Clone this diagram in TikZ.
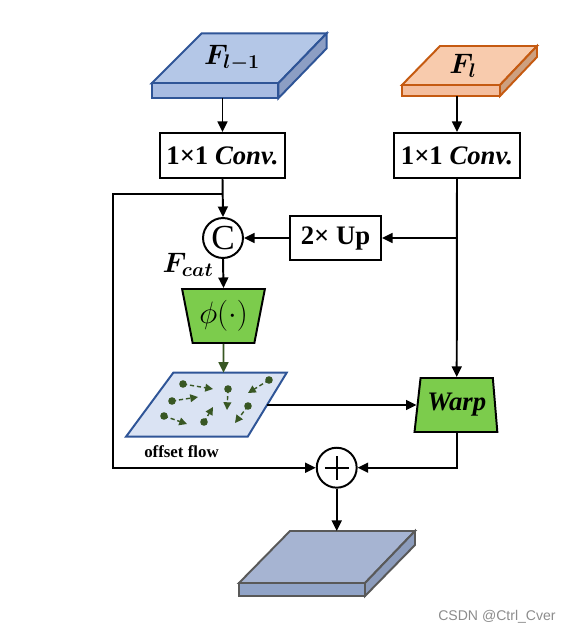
\RequirePackage{fix-cm}
\documentclass[tikz,border=0pt]{standalone}
\usepackage{amsmath,bm}
\usepackage{fontspec}
\setmainfont{Liberation Serif}
\newfontfamily\marksans{Liberation Sans}
\usetikzlibrary{shapes.geometric,arrows.meta}

\definecolor{prevtop}{RGB}{180,199,231}
\definecolor{prevfront}{RGB}{168,188,226}
\definecolor{prevside}{RGB}{140,158,196}
\definecolor{prevline}{RGB}{47,85,151}
\definecolor{currtop}{RGB}{248,203,173}
\definecolor{currfront}{RGB}{244,190,158}
\definecolor{currside}{RGB}{205,160,128}
\definecolor{currline}{RGB}{197,90,17}
\definecolor{opgreen}{RGB}{124,204,76}
\definecolor{flowgreen}{RGB}{56,87,35}
\definecolor{flowfill}{RGB}{218,227,243}
\definecolor{outtop}{RGB}{166,180,210}
\definecolor{outfront}{RGB}{145,164,200}
\definecolor{outside}{RGB}{140,156,188}
\definecolor{outline}{RGB}{89,89,89}

\begin{document}
\begin{tikzpicture}[x=0.025cm,y=-0.025cm,line width=1.4pt,
  >={Triangle[length=7.5pt,width=7pt]},
  box/.style={draw,rectangle,inner sep=0pt,font=\fontsize{19}{22}\selectfont\bfseries},
  opnode/.style={draw,circle,inner sep=0pt,minimum size=28.4pt},
  trap/.style={draw,fill=opgreen,trapezium,trapezium stretches=true,inner sep=0pt},
  flowarrow/.style={->,densely dashed,flowgreen,line width=1pt,>={Triangle[length=5.5pt,width=5.5pt]}}]
  \useasboundingbox (0,0) rectangle (570,632);

  % input feature F_{l-1}
  \filldraw[fill=prevtop,draw=prevline] (201.7,33.3) -- (326.7,33.3) -- (278.3,83.3) -- (151.7,83.3) -- cycle;
  \filldraw[fill=prevfront,draw=prevline] (151.7,83.3) rectangle (278.3,98.3);
  \filldraw[fill=prevside,draw=prevline] (278.3,83.3) -- (326.7,33.3) -- (326.7,48.3) -- (278.3,98.3) -- cycle;
  \node[font=\fontsize{20}{24}\selectfont] (fprev) at (232,58) {$\bm{F}_{\bm{l-1}}$};
  \coordinate (fprevout) at (222.5,98.3);

  % input feature F_l
  \filldraw[fill=currtop,draw=currline] (440,46) -- (537,46) -- (500,85) -- (402,85) -- cycle;
  \filldraw[fill=currfront,draw=currline] (402,85) rectangle (500,96);
  \filldraw[fill=currside,draw=currline] (500,85) -- (537,46) -- (537,57) -- (500,96) -- cycle;
  \node[font=\fontsize{20}{24}\selectfont] (fcurr) at (463,66) {$\bm{F}_{\bm{l}}$};
  \coordinate (fcurrout) at (457,96);

  \node[box,minimum width=89pt,minimum height=32pt] (convA) at (222.5,155.5) {1×1 \textit{Conv.}};
  \node[box,minimum width=89pt,minimum height=32pt] (convB) at (457,155.5) {1×1 \textit{Conv.}};
  \node[opnode,font=\fontsize{25}{27}\selectfont] (cat) at (223,238) {C};
  \node[box,minimum width=64.7pt,minimum height=31.3pt] (up) at (335.5,238) {2× Up};
  \node[font=\fontsize{20}{24}\selectfont] (fcat) at (188,265) {$\bm{F}_{\bm{cat}}$};
  \node[trap,shape border rotate=180,trapezium left angle=75,trapezium right angle=75,
    minimum width=59pt,minimum height=38.4pt,font=\fontsize{22}{26}\selectfont] (phi) at (223.5,316) {$\phi(\cdot)$};
  \node[trap,trapezium left angle=78,trapezium right angle=81,
    minimum width=59pt,minimum height=38.4pt,font=\fontsize{19}{22}\selectfont\bfseries\itshape] (warp) at (456.7,405) {Warp};
  \node[opnode,path picture={
    \draw[line width=1.4pt] ([xshift=-8.5pt]path picture bounding box.center) -- ([xshift=8.5pt]path picture bounding box.center);
    \draw[line width=1.4pt] ([yshift=-8.5pt]path picture bounding box.center) -- ([yshift=8.5pt]path picture bounding box.center);}] (plus) at (336.7,467.7) {};

  % offset flow
  \filldraw[fill=flowfill,draw=prevline] (173.3,372.7) -- (286.7,372.7) -- (247.7,436.7) -- (126,436.7) -- cycle;
  \coordinate (flowin) at (223.5,372.7);
  \coordinate (flowout) at (267,405);
  \node[font=\fontsize{12}{14}\selectfont\bfseries] (flowlabel) at (181.5,451.5) {offset flow};
  \foreach \xa/\ya/\xb/\yb in {183/384/213/389, 172/401/198/397, 164/416/187/424, 228/389/227/410,
    269/380/248/393, 248/406/235/423, 204/422/213/407} {
    \draw[flowarrow] (\xa,\ya) -- (\xb,\yb);
    \fill[flowgreen] (\xa,\ya) circle (3.8);
  }

  % output feature
  \filldraw[fill=outtop,draw=outline] (290,531) -- (415,531) -- (365,583) -- (239,583) -- cycle;
  \filldraw[fill=outfront,draw=outline] (239,583) rectangle (365,596);
  \filldraw[fill=outside,draw=outline] (365,583) -- (415,531) -- (415,545) -- (365,596) -- cycle;
  \coordinate (outin) at (336.7,531);

  \coordinate (split) at (222.5,194);
  \coordinate (loopA) at (113,194);
  \coordinate (loopB) at (113,467.7);
  \coordinate (upsplit) at (457,238);

  \draw[->] (fprevout) -- (convA.north);
  \draw[->] (fcurrout) -- (convB.north);
  \draw[->] (convA.south) -- (cat.north);
  \draw[->] (split) -- (loopA) -- (loopB) -- (plus.west);
  \draw[->] (convB.south) -- (warp.north);
  \draw[->] (upsplit) -- (up.east);
  \draw[->] (up.west) -- (cat.east);
  \draw[->] (cat.south) -- (phi.north);
  \draw[->,flowgreen] (phi.south) -- (flowin);
  \draw[->] (flowout) -- (warp.west);
  \draw[->] (warp.south) |- (plus.east);
  \draw[->] (plus.south) -- (outin);

  \node[text=black!45,font=\marksans\fontsize{10}{12}\selectfont] (mark) at (497,617) {CSDN @Ctrl\_Cver};
\end{tikzpicture}
\end{document}
